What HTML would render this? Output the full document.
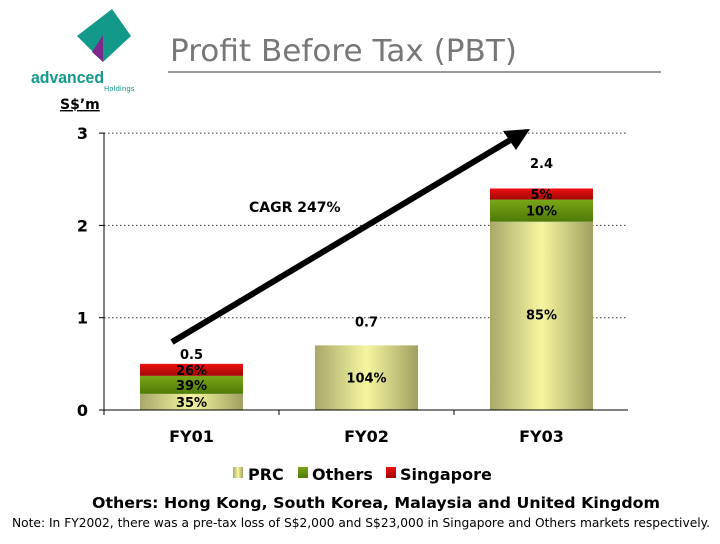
<!DOCTYPE html>
<html><head><meta charset="utf-8"><style>
body{margin:0;background:#fff;width:720px;height:540px;overflow:hidden;font-family:"DejaVu Sans","Liberation Sans",sans-serif}
</style></head><body>
<svg width="720" height="540" xmlns="http://www.w3.org/2000/svg">
<defs>
<linearGradient id="gP" x1="0" x2="1"><stop offset="0" stop-color="#a8a86a"/><stop offset="0.5" stop-color="#f6f6a0"/><stop offset="1" stop-color="#a0a060"/></linearGradient>
<linearGradient id="gO" x1="0" x2="0" y1="0" y2="1"><stop offset="0" stop-color="#7aa618"/><stop offset="1" stop-color="#4f7a08"/></linearGradient>
<linearGradient id="gS" x1="0" x2="0" y1="0" y2="1"><stop offset="0" stop-color="#ee1010"/><stop offset="1" stop-color="#a00808"/></linearGradient>
</defs>
<g>
<polygon points="112,9 131,36 103,62 77,36" fill="#13998a"/>
<polygon points="92,52 103,35 103,62" fill="#7b2a8c"/>
<text x="31" y="83" font-size="17" font-weight="bold" fill="#13998a" textLength="73" lengthAdjust="spacingAndGlyphs" font-family="Liberation Sans,sans-serif">advanced</text>
<text x="104" y="91" font-size="7" fill="#13998a">Holdings</text>
</g>
<text x="170" y="61" font-size="30" fill="#777" textLength="347" lengthAdjust="spacingAndGlyphs">Profit Before Tax (PBT)</text>
<line x1="168" y1="72" x2="661" y2="72" stroke="#777" stroke-width="1.5"/>
<text x="60" y="109" font-size="14" font-weight="bold" text-decoration="underline">S$’m</text>
<g id="chart"></g>
<g font-size="16" font-weight="bold">
<rect x="233" y="467" width="10" height="11" fill="url(#gP)"/><text x="248" y="480">PRC</text>
<rect x="298" y="467" width="10" height="11" fill="url(#gO)"/><text x="312" y="480">Others</text>
<rect x="386" y="467" width="10" height="11" fill="url(#gS)"/><text x="400" y="480">Singapore</text>
</g>
<text x="92" y="508" font-size="15.5" font-weight="bold" textLength="568" lengthAdjust="spacingAndGlyphs">Others: Hong Kong, South Korea, Malaysia and United Kingdom</text>
<text x="12" y="527" font-size="12" textLength="698" lengthAdjust="spacingAndGlyphs">Note: In FY2002, there was a pre-tax loss of S$2,000 and S$23,000 in Singapore and Others markets respectively.</text>
</svg>
<script>
const categories=["FY01","FY02","FY03"];
const totals=[0.5,0.7,2.4];
const prcShare=[35,104,85];
const othersShare=[39,0,10];
const singShare=[26,0,5];
const prcLabels=["35%","104%","85%"];
const othersLabels=["39%","","10%"];
const singLabels=["26%","","5%"];
const yTicks=[0,1,2,3];
const NS="http://www.w3.org/2000/svg";
const g=document.getElementById('chart');
const x0=104,band=175,y0=410,yScale=92.3,barW=103;
const Y=v=>y0-v*yScale;
const X=i=>x0+band*i+band/2;
function el(t,a,p){const e=document.createElementNS(NS,t);for(const k in a)e.setAttribute(k,a[k]);(p||g).appendChild(e);return e;}
yTicks.forEach(t=>{
 if(t>0){const l=el('line',{x1:x0,x2:628,y1:Y(t),y2:Y(t),stroke:'#333','stroke-dasharray':'1.5,2.5'});
 
 }
 const tx=el('text',{x:88,y:Y(t)+6,'font-size':16,'font-weight':'bold','text-anchor':'end'});tx.textContent=t;
 
 
 const tk=el('line',{x1:x0-5,x2:x0,y1:Y(t),y2:Y(t),stroke:'#000'});
 
 
});
categories.forEach((c,i)=>{
 const cx=X(i),tot=totals[i];
 const shares=[prcShare[i],othersShare[i],singShare[i]];
 const fills=['url(#gP)','url(#gO)','url(#gS)'];
 const labs=[prcLabels[i],othersLabels[i],singLabels[i]];
 const names=['bar-prc','bar-others','bar-singapore'];
 let acc=0;
 const sum=shares.reduce((a,b)=>a+b,0);
 shares.forEach((s,k)=>{
  if(!s)return;
  const v=tot*s/sum;
  const top=Y(acc+v),bot=Y(acc);
  const r=el('rect',{x:cx-barW/2,y:top,width:barW,height:bot-top,fill:fills[k]});
  
  
  let ly=(top+bot)/2+5;
  if(k===0&&i===2)ly=Y(1)+2;
  const t=el('text',{x:cx,y:ly,'font-size':13,'font-weight':'bold','text-anchor':'middle'});t.textContent=labs[k];
  
  
  acc+=v;
 });
 const vl=el('text',{x:cx,y:(i===1?Y(1)+9:i===2?Y(2.7)+7:Y(tot)-5),'font-size':13,'font-weight':'bold','text-anchor':'middle'});vl.textContent=tot;
 
 
 const xl=el('text',{x:cx,y:442,'font-size':16,'font-weight':'bold','text-anchor':'middle'});xl.textContent=c;
 
 
 const tk=el('line',{x1:x0+band*i,x2:x0+band*i,y1:y0,y2:y0+5,stroke:'#000'});
 
 
});
const ax=el('line',{x1:x0,x2:x0,y1:Y(3),y2:y0,stroke:'#000'});


const bx=el('line',{x1:x0,x2:628,y1:y0,y2:y0,stroke:'#000'});


const ar=el('line',{x1:172,y1:342,x2:512,y2:139,stroke:'#000','stroke-width':6});


const ah=el('polygon',{points:'530,129 503,131 516,150',fill:'#000'});


const cg=el('text',{x:249,y:212,'font-size':14,'font-weight':'bold'});cg.textContent='CAGR 247%';


</script>
</body></html>
